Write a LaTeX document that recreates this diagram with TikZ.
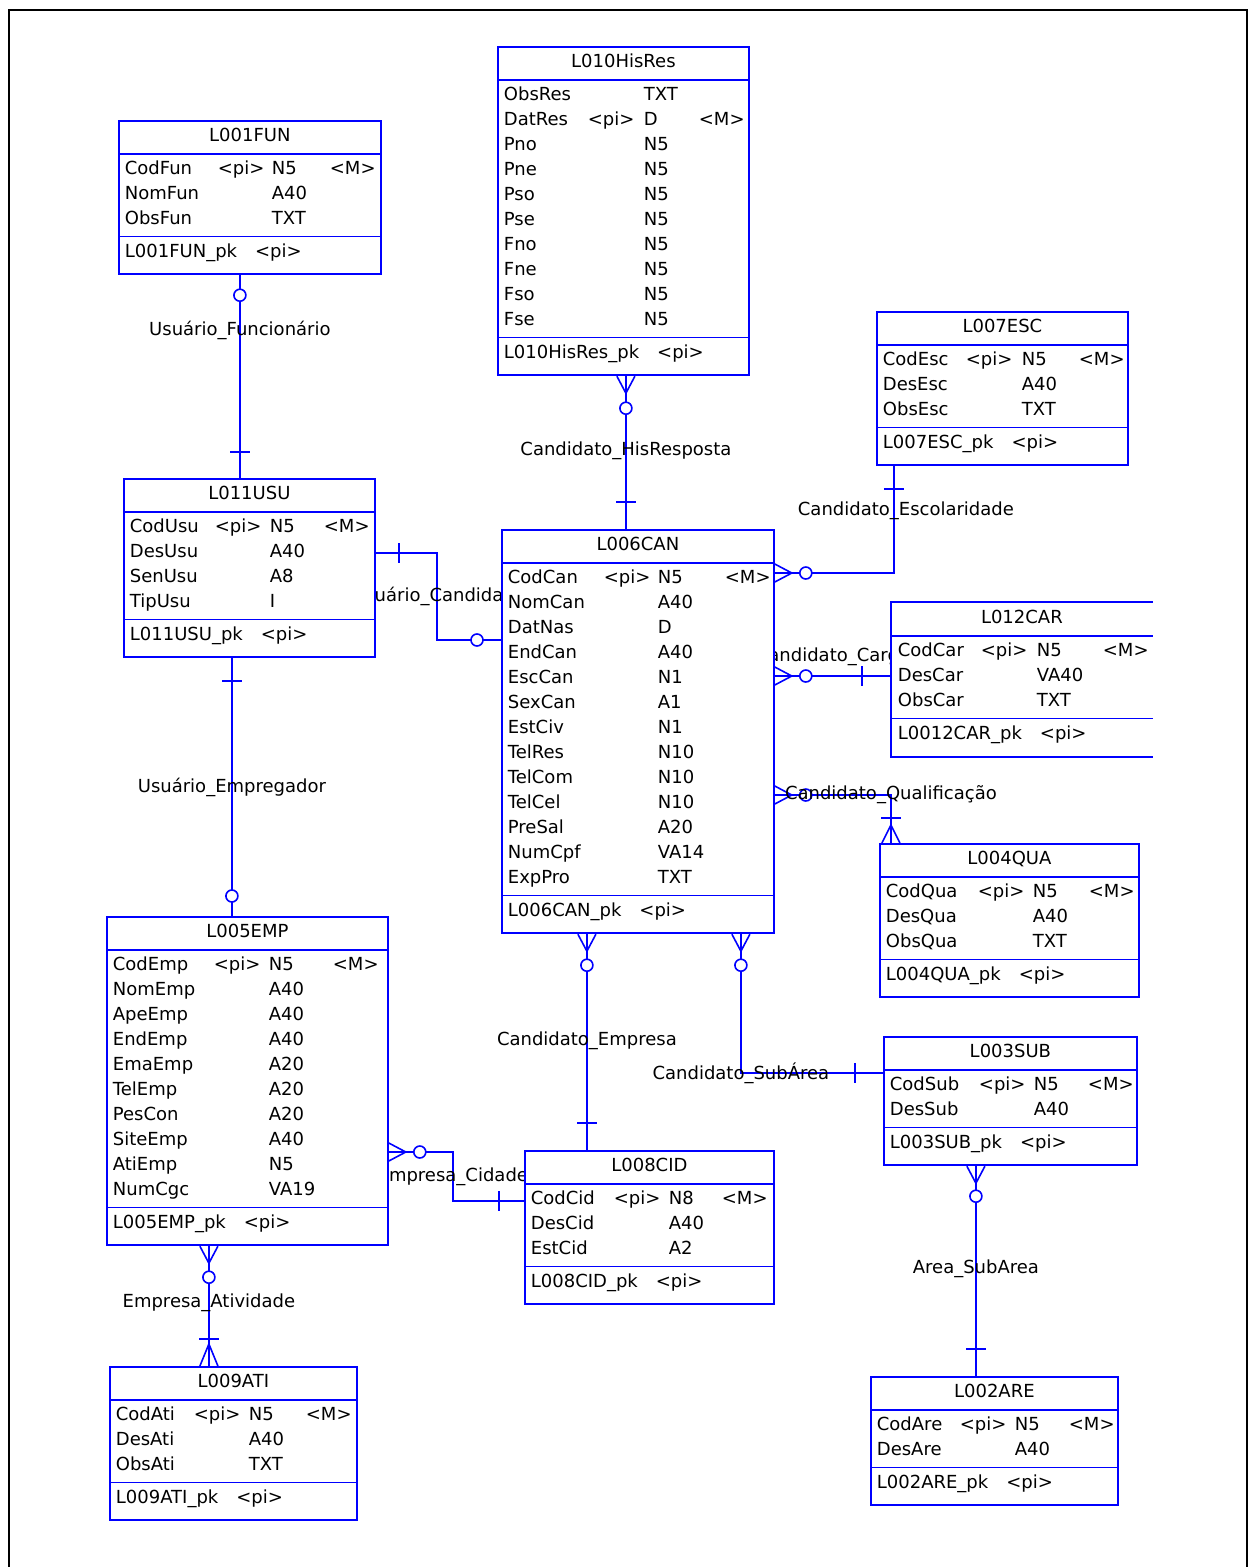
\documentclass[tikz,border=0pt]{standalone}
\usepackage{fontspec}
\setmainfont{DejaVu Sans}
\usetikzlibrary{shapes.multipart, backgrounds, decorations.markings}

\newcommand{\rs}{\rule[-8pt]{0pt}{25pt}}
\newcommand{\pkrs}{\rule[-13pt]{0pt}{30pt}}
\newcommand{\ttl}[1]{\hfill #1\rs\hfill\null}
\newcommand{\cols}[3]{\def\cA{#1pt}\def\cB{#2pt}\def\cC{#3pt}}
\newcommand{\fld}[4]{\makebox[\cA][l]{#1}\makebox[\cB][l]{#2}\makebox[\cC][l]{#3}#4\rs}

\tikzset{
  tbl/.style={rectangle split, rectangle split parts=3, draw=blue, line width=1.8pt, fill=white,
    anchor=north west, inner xsep=6pt, inner ysep=3pt, font=\fontsize{18}{25}\selectfont, align=left},
  rel/.style={draw=blue, line width=1.6pt},
  lab/.style={font=\fontsize{18}{25}\selectfont, text=black, inner sep=0pt},
  mk/.style={postaction={decorate, decoration={markings, #1}}},
  onebar/.style={mk={mark=at position #1 with {\draw[rel] (0,-10) -- (0,10);}}},
  ring/.style={mk={mark=at position #1 with {\draw[rel, fill=white] (0,0) circle (6pt);}}},
  crowstart/.style={mk={mark=at position 0pt with {\draw[rel] (0,-9) -- (17,0) -- (0,9);}}},
  crowend/.style={mk={mark=at position -0.01pt with {\draw[rel] (0,-9) -- (#1,0) -- (0,9);}}},
}

\begin{document}
\begin{tikzpicture}[x=1pt, y=-1pt]
\useasboundingbox (0,0) rectangle (1250,1567);
\draw[line width=2.5pt] (9,1567) -- (9,10) -- (1247,10) -- (1247,1567);

% tables
\cols{93}{54}{58}
\node[tbl, text width=250pt] (fun) at (118,120) {\ttl{L001FUN}
  \nodepart{two}\fld{CodFun}{<pi>}{N5}{<M>}\\ \fld{NomFun}{}{A40}{}\\ \fld{ObsFun}{}{TXT}{}
  \nodepart{three}L001FUN\_pk\quad <pi>\pkrs};

\cols{84}{56}{55}
\node[tbl, text width=239pt] (his) at (497,46) {\ttl{L010HisRes}
  \nodepart{two}\fld{ObsRes}{}{TXT}{}\\ \fld{DatRes}{<pi>}{D}{<M>}\\ \fld{Pno}{}{N5}{}\\
  \fld{Pne}{}{N5}{}\\ \fld{Pso}{}{N5}{}\\ \fld{Pse}{}{N5}{}\\ \fld{Fno}{}{N5}{}\\
  \fld{Fne}{}{N5}{}\\ \fld{Fso}{}{N5}{}\\ \fld{Fse}{}{N5}{}
  \nodepart{three}L010HisRes\_pk\quad <pi>\pkrs};

\cols{85}{55}{54}
\node[tbl, text width=239pt] (usu) at (123,478) {\ttl{L011USU}
  \nodepart{two}\fld{CodUsu}{<pi>}{N5}{<M>}\\ \fld{DesUsu}{}{A40}{}\\ \fld{SenUsu}{}{A8}{}\\ \fld{TipUsu}{}{I}{}
  \nodepart{three}L011USU\_pk\quad <pi>\pkrs};

\cols{96}{54}{67}
\node[tbl, text width=260pt] (can) at (501,529) {\ttl{L006CAN}
  \nodepart{two}\fld{CodCan}{<pi>}{N5}{<M>}\\ \fld{NomCan}{}{A40}{}\\ \fld{DatNas}{}{D}{}\\
  \fld{EndCan}{}{A40}{}\\ \fld{EscCan}{}{N1}{}\\ \fld{SexCan}{}{A1}{}\\ \fld{EstCiv}{}{N1}{}\\
  \fld{TelRes}{}{N10}{}\\ \fld{TelCom}{}{N10}{}\\ \fld{TelCel}{}{N10}{}\\ \fld{PreSal}{}{A20}{}\\
  \fld{NumCpf}{}{VA14}{}\\ \fld{ExpPro}{}{TXT}{}
  \nodepart{three}L006CAN\_pk\quad <pi>\pkrs};

\cols{83}{56}{57}
\node[tbl, text width=239pt] (esc) at (876,311) {\ttl{L007ESC}
  \nodepart{two}\fld{CodEsc}{<pi>}{N5}{<M>}\\ \fld{DesEsc}{}{A40}{}\\ \fld{ObsEsc}{}{TXT}{}
  \nodepart{three}L007ESC\_pk\quad <pi>\pkrs};

\cols{83}{56}{66}
\node[tbl, draw=none, text width=248pt] (car) at (891,602) {\ttl{L012CAR}
  \nodepart{two}\fld{CodCar}{<pi>}{N5}{<M>}\\ \fld{DesCar}{}{VA40}{}\\ \fld{ObsCar}{}{TXT}{}
  \nodepart{three}L0012CAR\_pk\quad <pi>\pkrs};
\draw[blue, line width=1.8pt] (car.north east) -- (car.north west) -- (car.south west) -- (car.south east);
\draw[blue, line width=1.8pt] (car.text split west) -- (car.text split east)
  (car.two split west) -- (car.two split east);

\cols{92}{55}{56}
\node[tbl, text width=247pt] (qua) at (879,843) {\ttl{L004QUA}
  \nodepart{two}\fld{CodQua}{<pi>}{N5}{<M>}\\ \fld{DesQua}{}{A40}{}\\ \fld{ObsQua}{}{TXT}{}
  \nodepart{three}L004QUA\_pk\quad <pi>\pkrs};

\cols{101}{55}{64}
\node[tbl, text width=269pt] (emp) at (106,916) {\ttl{L005EMP}
  \nodepart{two}\fld{CodEmp}{<pi>}{N5}{<M>}\\ \fld{NomEmp}{}{A40}{}\\ \fld{ApeEmp}{}{A40}{}\\
  \fld{EndEmp}{}{A40}{}\\ \fld{EmaEmp}{}{A20}{}\\ \fld{TelEmp}{}{A20}{}\\ \fld{PesCon}{}{A20}{}\\
  \fld{SiteEmp}{}{A40}{}\\ \fld{AtiEmp}{}{N5}{}\\ \fld{NumCgc}{}{VA19}{}
  \nodepart{three}L005EMP\_pk\quad <pi>\pkrs};

\cols{89}{55}{54}
\node[tbl, text width=241pt] (sub) at (883,1036) {\ttl{L003SUB}
  \nodepart{two}\fld{CodSub}{<pi>}{N5}{<M>}\\ \fld{DesSub}{}{A40}{}
  \nodepart{three}L003SUB\_pk\quad <pi>\pkrs};

\cols{83}{55}{53}
\node[tbl, text width=237pt] (cid) at (524,1150) {\ttl{L008CID}
  \nodepart{two}\fld{CodCid}{<pi>}{N8}{<M>}\\ \fld{DesCid}{}{A40}{}\\ \fld{EstCid}{}{A2}{}
  \nodepart{three}L008CID\_pk\quad <pi>\pkrs};

\cols{78}{55}{57}
\node[tbl, text width=235pt] (ati) at (109,1366) {\ttl{L009ATI}
  \nodepart{two}\fld{CodAti}{<pi>}{N5}{<M>}\\ \fld{DesAti}{}{A40}{}\\ \fld{ObsAti}{}{TXT}{}
  \nodepart{three}L009ATI\_pk\quad <pi>\pkrs};

\cols{83}{55}{54}
\node[tbl, text width=235pt] (are) at (870,1376) {\ttl{L002ARE}
  \nodepart{two}\fld{CodAre}{<pi>}{N5}{<M>}\\ \fld{DesAre}{}{A40}{}
  \nodepart{three}L002ARE\_pk\quad <pi>\pkrs};

% relationship ends
\coordinate (fu) at ([xshift=-10pt]fun.south);
\coordinate (hc) at ([xshift=2.5pt]his.south);
\coordinate (ce) at ([yshift=-44pt]can.north east);
\coordinate (ec) at ([xshift=-108.5pt]esc.south);
\coordinate (uc) at ([yshift=-75pt]usu.north east);
\coordinate (cu) at ([yshift=-111pt]can.north west);
\coordinate (cc) at ([yshift=-147pt]can.north east);
\coordinate (cq) at ([yshift=-266pt]can.north east);
\coordinate (qc) at ([xshift=-118.5pt]qua.north);
\coordinate (cd) at ([xshift=-51pt]can.south);
\coordinate (cs) at ([xshift=103pt]can.south);
\coordinate (sc) at ([yshift=-37pt]sub.north west);
\coordinate (ed) at ([yshift=-236pt]emp.north east);
\coordinate (de) at ([yshift=-51pt]cid.north west);
\coordinate (ea) at ([xshift=-38.5pt]emp.south);
\coordinate (ue) at ([xshift=-17.5pt]usu.south);
\coordinate (sa) at ([xshift=-34.5pt]sub.south);

\begin{scope}[on background layer]
\draw[rel, ring=20pt, onebar=-26pt] (fu) -- node[lab, pos=0.27] {Usuário\_Funcionário} (fu |- usu.north);
\draw[rel, crowstart, ring=32pt, onebar=-27pt] (hc) -- node[lab, pos=0.49] {Candidato\_HisResposta} (hc |- can.north);
\draw[rel, crowstart, ring=31pt, onebar=-23pt] (ce) -| node[lab, pos=0.79, xshift=12pt] {Candidato\_Escolaridade} (ec);
\draw[rel, onebar=23pt, ring=-24pt] (uc) -- ++(61,0) |- node[lab, pos=0.25] {Usuário\_Candidato} (cu);
\draw[rel, crowstart, ring=31pt, onebar=-29pt] (cc) -- node[lab, pos=0.5, yshift=19pt] {Candidato\_Cargo} (cc -| car.west);
\draw[rel, crowstart, ring=31pt, onebar=-25pt, crowend=-18] (cq) -| node[lab, pos=0.5] {Candidato\_Qualificação} (qc);
\draw[rel, crowstart, ring=31pt, onebar=-27pt] (cd) -- node[lab, pos=0.495] {Candidato\_Empresa} (cd |- cid.north);
\draw[rel, crowstart, ring=31pt, onebar=-28pt] (cs) |- node[lab, pos=0.5] {Candidato\_SubÁrea} (sc);
\draw[rel, crowstart, ring=31pt, onebar=-25pt] (ed) -- ++(64,0) |- node[lab, pos=0.25] {Empresa\_Cidade} (de);
\draw[rel, crowstart, ring=31pt, onebar=-27pt, crowend=-22] (ea) -- node[lab, pos=0.475] {Empresa\_Atividade} (ea |- ati.north);
\draw[rel, onebar=23pt, ring=-20pt] (ue) -- node[lab, pos=0.5] {Usuário\_Empregador} (ue |- emp.north);
\draw[rel, crowstart, ring=30pt, onebar=-27pt] (sa) -- node[lab, pos=0.49] {Area\_SubArea} (sa |- are.north);
\end{scope}
\end{tikzpicture}
\end{document}
